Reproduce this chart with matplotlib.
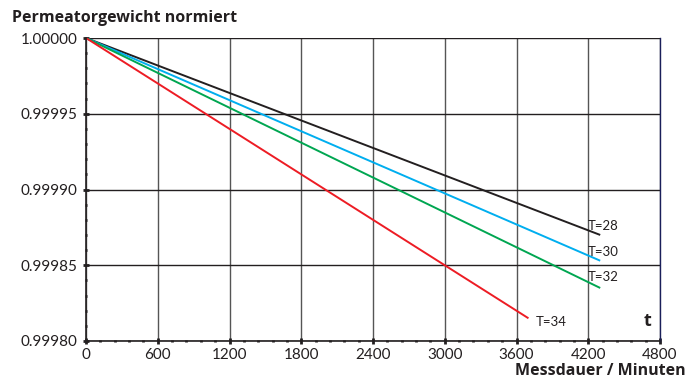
import matplotlib.pyplot as plt
from matplotlib.ticker import MultipleLocator, FormatStrFormatter

plt.rcParams['font.family'] = ['Lato', 'DejaVu Sans']

# series: temperature label, end time [min], normalised weight at end
labels = ['T=28', 'T=30', 'T=32', 'T=34']
t_end = [4300, 4300, 4300, 3700]
w_end = [0.999870, 0.999853, 0.999835, 0.999815]
colors = ['#231f20', '#00aeef', '#00a651', '#ed1c24']
# label offsets (minutes, weight) relative to line end
lab_dx = [-100, -100, -100, 60]
lab_dy = [0.0000060, 0.0000060, 0.0000070, -0.0000025]

fig = plt.figure(figsize=(6.88, 3.85), dpi=100)
ax = fig.add_axes([86/688, 44/385, 574/688, 303/385])

for lab, te, we, c, dx, dy in zip(labels, t_end, w_end, colors, lab_dx, lab_dy):
    ax.plot([0, te], [1.0, we], color=c, lw=1.4, solid_capstyle='butt')
    ax.text(te + dx, we + dy, lab, fontsize=9.5, color='#231f20',
            ha='left', va='center')

ax.set_xlim(0, 4800)
ax.set_ylim(0.9998, 1.0)
ax.xaxis.set_major_locator(MultipleLocator(600))
ax.xaxis.set_minor_locator(MultipleLocator(120))
ax.yaxis.set_major_locator(MultipleLocator(0.00005))
ax.yaxis.set_minor_locator(MultipleLocator(0.00001))
ax.yaxis.set_major_formatter(FormatStrFormatter('%.5f'))

ax.grid(True, axis='x', which='major', color='#555555', lw=1.0)
ax.grid(True, axis='y', which='major', color='#231f20', lw=1.0)
ax.tick_params(which='major', direction='inout', length=4, width=2,
               labelsize=11, colors='#231f20', pad=4)
ax.tick_params(which='minor', direction='inout', length=2, width=2,
               color='#231f20')
ax.tick_params(axis='x', pad=3)

for s in ['left', 'bottom']:
    ax.spines[s].set_color('#231f20')
    ax.spines[s].set_linewidth(1.2)
ax.spines['top'].set_visible(False)
ax.spines['right'].set_color('#1a1f5a')
ax.spines['right'].set_linewidth(1.0)

ax.text(0.985, 0.035, 't', transform=ax.transAxes, fontsize=13,
        fontweight='bold', family='Open Sans', color='#231f20',
        ha='right', va='bottom')

fig.text(12/688, 1 - 18/385, 'Permeatorgewicht normiert', fontsize=11.5,
         fontweight='bold', family='Open Sans', color='#231f20',
         ha='left', va='center')
fig.text(686/688, 1 - 371/385, 'Messdauer / Minuten', fontsize=11.5,
         fontweight='bold', family='Open Sans', color='#231f20',
         ha='right', va='center')

fig.savefig('out.png', dpi=100)
